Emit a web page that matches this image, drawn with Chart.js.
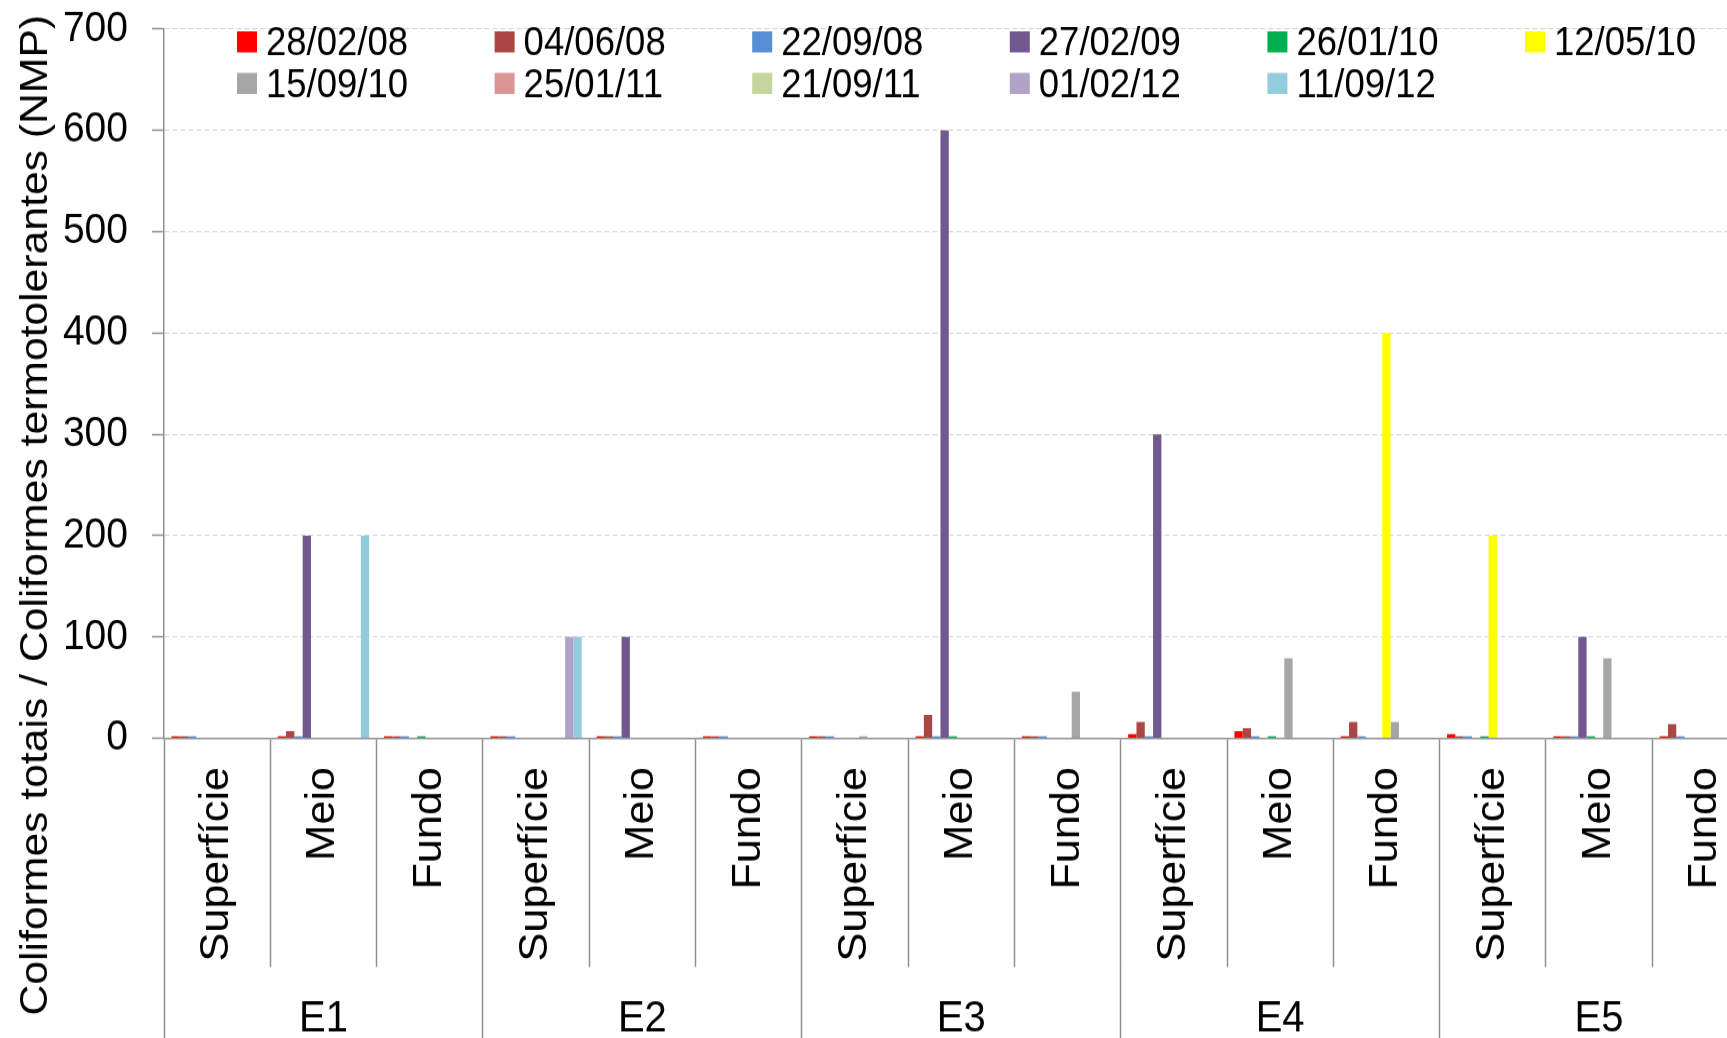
<!DOCTYPE html>
<html>
<head>
<meta charset="utf-8">
<title>Coliformes</title>
<script src="https://cdn.jsdelivr.net/npm/chart.js@4.4.1/dist/chart.umd.min.js"></script>
<style>
  html, body { margin: 0; padding: 0; background: #fff; overflow: hidden; width: 1727px; height: 1038px; }
  /* the drawing is slightly taller than wide, so the canvas is stretched vertically */
  #wrap { position: absolute; left: 0; top: 0; width: 1760px; height: 961px; transform: scaleY(1.08); transform-origin: 0 0; }
  canvas { display: block; }
</style>
</head>
<body>
<div id="wrap"><canvas id="chart" width="1760" height="961"></canvas></div>
<script>
// Sampling points: station × depth
const depthLabels = ['Superfície', 'Meio', 'Fundo', 'Superfície', 'Meio', 'Fundo', 'Superfície', 'Meio', 'Fundo',
                     'Superfície', 'Meio', 'Fundo', 'Superfície', 'Meio', 'Fundo'];
const stationLabels = ['E1', 'E2', 'E3', 'E4', 'E5'];

// Campaign dates
const dateLabels = ['28/02/08', '04/06/08', '22/09/08', '27/02/09', '26/01/10', '12/05/10',
                    '15/09/10', '25/01/11', '21/09/11', '01/02/12', '11/09/12'];

// NMP per campaign (E1 S/M/F, E2 S/M/F, E3 S/M/F, E4 S/M/F, E5 S/M/F)
const v280208 = [2, 2, 2, 2, 2, 2, 2, 2, 2, 4, 7, 2, 4, 2, 2];
const v040608 = [2, 7, 2, 2, 2, 2, 2, 23, 2, 16, 10, 16, 2, 2, 14];
const v220908 = [2, 2, 2, 2, 2, 2, 2, 2, 2, 2, 2, 2, 2, 2, 2];
const v270209 = [null, 200, null, null, 100, null, null, 600, null, 300, null, null, null, 100, null];
const v260110 = [null, null, 2, null, null, null, null, 2, null, null, 2, null, 2, 2, null];
const v120510 = [null, null, null, null, null, null, null, null, null, null, null, 400, 200, null, null];
const v150910 = [null, null, null, null, null, null, 2, null, 46, null, 79, 16, null, 79, null];
const v250111 = [null, null, null, null, null, null, null, null, null, null, null, null, null, null, null];
const v210911 = [null, null, null, null, null, null, null, null, null, null, null, null, null, null, null];
const v010212 = [null, null, null, 100, null, null, null, null, null, null, null, null, null, null, null];
const v110912 = [null, 200, null, 100, null, null, null, null, null, null, null, null, null, null, null];

const yTickValues = [0, 100, 200, 300, 400, 500, 600, 700];

const seriesValues = [v280208, v040608, v220908, v270209, v260110, v120510,
                      v150910, v250111, v210911, v010212, v110912];
const seriesColors = ['#FF0000', '#AA4643', '#558ED5', '#71588F', '#00B050', '#FFFF00',
                      '#A6A6A6', '#D99694', '#C3D69B', '#B3A2C7', '#93CDDD'];

const yTitle = 'Coliformes totais / Coliformes termotolerantes (NMP)';

const FONT = '"Liberation Sans", Arial, sans-serif';
const AXIS_GRAY = '#8f8f8f';
const AXIS_LEFT = 164;          // x of the value axis
const INNER_AXIS_H = 211.8;     // depth labels band
const GROUP_AXIS_H = 65.6;      // station labels band

Chart.defaults.font.family = FONT;
Chart.defaults.color = '#000';

// Rotated value-axis title and the two-row date legend inside the plot
const overlayPlugin = {
  id: 'overlay',
  afterDraw(chart) {
    const { ctx, chartArea } = chart;
    ctx.save();
    ctx.font = '39.5px ' + FONT;
    ctx.fillStyle = '#000';
    ctx.textAlign = 'center';
    ctx.textBaseline = 'alphabetic';
    ctx.translate(47, 477);
    ctx.rotate(-Math.PI / 2);
    ctx.fillText(yTitle, 0, 0);
    ctx.restore();

    ctx.save();
    ctx.font = '36.5px ' + FONT;
    ctx.textAlign = 'left';
    ctx.textBaseline = 'alphabetic';
    chart.data.datasets.forEach((ds, i) => {
      const col = i % 6;
      const row = Math.floor(i / 6);
      const x = chartArea.left + 73 + col * 257.6;
      const base = 51 + row * 38.5;
      ctx.fillStyle = ds.backgroundColor;
      ctx.fillRect(x, base - 22, 20, 19.5);
      ctx.fillStyle = '#000';
      ctx.fillText(ds.label, x + 29, base);
    });
    ctx.restore();
  }
};

const noScalePadding = (s) => {
  s.paddingTop = 0;
  s.paddingBottom = 0;
  s.paddingLeft = 0;
  s.paddingRight = 0;
};

new Chart(document.getElementById('chart'), {
  type: 'bar',
  data: {
    labels: depthLabels,
    datasets: dateLabels.map((label, i) => ({
      label,
      data: seriesValues[i],
      backgroundColor: seriesColors[i],
      borderWidth: 0,
      categoryPercentage: 0.86,
      barPercentage: 1.0
    }))
  },
  options: {
    responsive: false,
    animation: false,
    devicePixelRatio: 1,
    layout: { padding: { top: 26.85, right: 1.5, bottom: 0, left: 0 } },
    plugins: {
      legend: { display: false },
      title: { display: false },
      tooltip: { enabled: false }
    },
    scales: {
      x: {
        type: 'category',
        labels: depthLabels,
        position: 'bottom',
        weight: 0,
        offset: true,
        grid: {
          offset: true,
          drawOnChartArea: false,
          drawTicks: true,
          tickLength: INNER_AXIS_H,
          tickColor: AXIS_GRAY,
          tickWidth: 1.5,
          color: AXIS_GRAY
        },
        border: { display: true, color: AXIS_GRAY, width: 1.5 },
        ticks: {
          autoSkip: false,
          minRotation: 90,
          maxRotation: 90,
          padding: -185.2,
          color: '#000',
          font: { size: 40 }
        },
        afterFit: (s) => { s.height = INNER_AXIS_H; noScalePadding(s); }
      },
      x2: {
        type: 'category',
        labels: stationLabels,
        position: 'bottom',
        weight: 1,
        offset: true,
        grid: {
          offset: true,
          drawOnChartArea: false,
          drawTicks: true,
          tickLength: GROUP_AXIS_H,
          tickColor: AXIS_GRAY,
          tickWidth: 1.5,
          color: AXIS_GRAY
        },
        border: { display: false },
        ticks: {
          autoSkip: false,
          maxRotation: 0,
          minRotation: 0,
          padding: -41.5,
          color: '#000',
          font: { size: 40 }
        },
        afterFit: (s) => { s.height = GROUP_AXIS_H; noScalePadding(s); }
      },
      y: {
        position: 'left',
        min: 0,
        max: 700,
        grid: {
          color: (c) => (c.tick && c.tick.value === 0 ? 'rgba(0,0,0,0)' : '#d2d2d2'),
          lineWidth: 1,
          drawTicks: true,
          tickLength: 12,
          tickColor: AXIS_GRAY,
          tickWidth: 1.5
        },
        border: { display: true, color: AXIS_GRAY, width: 1.5, dash: [5, 3] },
        ticks: { padding: 24, color: '#000', font: { size: 39 } },
        afterBuildTicks: (s) => { s.ticks = yTickValues.map((v) => ({ value: v })); },
        afterFit: (s) => { s.width = AXIS_LEFT; noScalePadding(s); }
      }
    }
  },
  plugins: [overlayPlugin]
});
</script>
</body>
</html>
